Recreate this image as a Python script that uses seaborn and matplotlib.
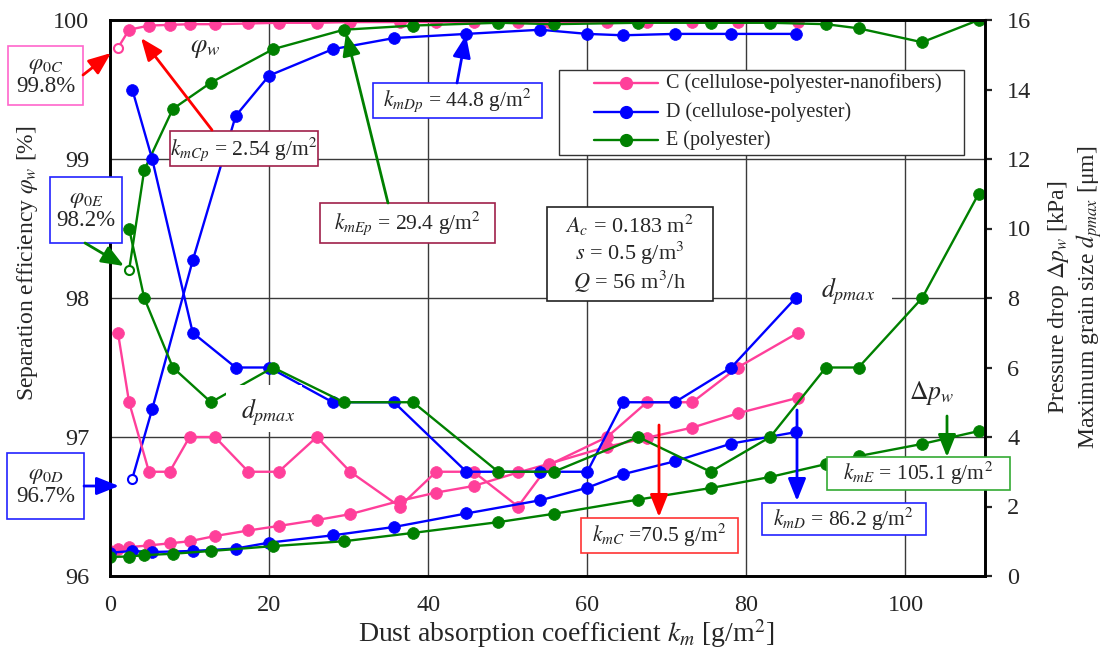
import numpy as np
import pandas as pd
import matplotlib
matplotlib.use("Agg")
import matplotlib.pyplot as plt
import seaborn as sns
from matplotlib.patches import Rectangle, FancyArrowPatch
from matplotlib.lines import Line2D

# ---------------- data ----------------
# C (cellulose-polyester-nanofibers)
km_C = [1.0, 2.4, 4.9, 7.5, 10.0, 13.2, 17.4, 21.2, 26.0, 30.2, 36.4, 41.0, 45.7, 51.3,
        55.2, 62.5, 67.5, 73.2, 78.9, 86.5]
phi_C = [99.80, 99.93, 99.96, 99.965, 99.97, 99.97, 99.975, 99.98, 99.98, 99.985, 99.985,
         99.985, 99.985, 99.985, 99.985, 99.985, 99.985, 99.985, 99.985, 99.985]
dp_C = [7, 5, 3, 3, 4, 4, 3, 3, 4, 3, 2, 3, 3, 2, 3.2, 4, 5, 5, 6, 7]
km_C_dp = [0.0] + km_C
dP_C = [0.72, 0.77, 0.83, 0.88, 0.94, 1.00, 1.15, 1.31, 1.44, 1.61, 1.78, 2.16, 2.40, 2.59,
        2.98, 3.23, 3.72, 3.98, 4.27, 4.68, 5.13]

# D (cellulose-polyester)
km_D = [2.8, 5.3, 10.4, 15.8, 20.0, 28.0, 35.7, 44.8, 54.1, 60.0, 64.5, 71.0, 78.1, 86.2]
phi_D = [96.70, 97.20, 98.27, 99.31, 99.60, 99.79, 99.87, 99.90, 99.93, 99.90, 99.89,
         99.90, 99.90, 99.90]
dp_D = [14, 12, 7, 6, 6, 5, 5, 3, 3, 3, 5, 5, 6, 8]
km_D_dp = [0.0] + km_D
dP_D = [0.67, 0.72, 0.69, 0.72, 0.79, 0.96, 1.17, 1.41, 1.80, 2.18, 2.54, 2.93, 3.30, 3.81, 4.14]

# E (polyester)
km_E = [2.4, 4.3, 7.9, 12.7, 20.5, 29.4, 38.1, 48.8, 55.8, 66.4, 75.5, 83.0, 90.0, 94.1,
        102.1, 109.2]
phi_E = [98.20, 98.92, 99.36, 99.55, 99.79, 99.93, 99.96, 99.98, 99.97, 99.98, 99.98,
         99.98, 99.97, 99.94, 99.84, 100.0]
dp_E = [10, 8, 6, 5, 6, 5, 5, 3, 3, 4, 3, 4, 6, 6, 8, 11]
km_E_dp = [0.0] + km_E
dP_E = [0.55, 0.56, 0.60, 0.64, 0.72, 0.86, 1.00, 1.24, 1.55, 1.79, 2.20, 2.53, 2.85, 3.22,
        3.45, 3.80, 4.17]

labels = ["C (cellulose-polyester-nanofibers)", "D (cellulose-polyester)", "E (polyester)"]
PINK, BLUE, GREEN = "#FF3F9A", "#0000FF", "#008000"

# ---------------- style ----------------
sns.set_style("white")
plt.rcParams["font.family"] = ["Liberation Serif", "DejaVu Serif"]
plt.rcParams["mathtext.fontset"] = "stix"

W, H = 1106, 650
fig = plt.figure(figsize=(W / 100, H / 100), dpi=100)
ax = fig.add_axes([110 / W, 1 - 576 / H, 875 / W, 556 / H])
ax2 = ax.twinx()


def F(x, y):
    return (x / W, 1 - y / H)


def series(axis, x, y, color, open_first=False):
    kw = dict(ax=axis, color=color, marker="o", markersize=8.5, markeredgecolor=color,
              markeredgewidth=0.5, linewidth=1.7, sort=False, estimator=None)
    if open_first:
        kw["markevery"] = list(range(1, len(x)))
    sns.lineplot(x=x, y=y, **kw)
    if open_first:
        axis.plot([x[0]], [y[0]], marker="o", ms=6.5, mfc="white", mec=color, mew=1.5,
                  ls="none", zorder=5)


for (kx, ph, kdp, dP, dp, c) in [
        (km_C, phi_C, km_C_dp, dP_C, dp_C, PINK),
        (km_D, phi_D, km_D_dp, dP_D, dp_D, BLUE),
        (km_E, phi_E, km_E_dp, dP_E, dp_E, GREEN)]:
    series(ax, kx, ph, c, open_first=True)
    series(ax2, kdp, dP, c)
    series(ax2, kx, dp, c)

ax.set_xlim(0, 110)
ax.set_ylim(96, 100)
ax2.set_ylim(0, 16)
ax.set_xticks([0, 20, 40, 60, 80, 100])
ax.set_yticks([96, 97, 98, 99, 100])
ax2.set_yticks(range(0, 17, 2))
ax.grid(True, color="#3a3a3a", lw=1.0)
ax2.grid(False)
ax.set_xlabel("")
ax.set_ylabel("")
ax2.set_ylabel("")
ax.tick_params(axis="x", length=0, labelsize=17.5, pad=14)
ax.tick_params(axis="y", length=0, labelsize=17.5, pad=15)
ax2.tick_params(axis="y", direction="out", length=5, width=1.6, labelsize=17.5, pad=11)
for a in (ax, ax2):
    for s in a.spines.values():
        s.set_linewidth(1.9)
        s.set_color("black")
        s.set_visible(True)

# ---------------- axis titles ----------------
fig.text(*F(28, 263), r"Separation efficiency $\varphi_w$ [%]", rotation=90,
         ha="center", va="center", fontsize=17)
fig.text(*F(1075, 297), "Pressure drop $\\Delta p_w$ [kPa]\nMaximum grain size $d_{pmax}$ [\u03bcm]",
         rotation=90, ha="center", va="center", fontsize=17, multialignment="center",
         linespacing=1.15)
fig.text(*F(566, 634), r"Dust absorption coefficient $k_m$ [g/m$^2$]", ha="center",
         va="center", fontsize=20)

# ---------------- legend (drawn manually) ----------------
fig.add_artist(Rectangle(F(559, 155), (964 - 559) / W, (155 - 70) / H,
                         transform=fig.transFigure, fc="white", ec="#333333", lw=1.0, zorder=8))
for yy, c, lab in zip([83, 112, 140], [PINK, BLUE, GREEN], labels):
    fig.add_artist(Line2D([594 / W, 658 / W], [1 - yy / H] * 2, transform=fig.transFigure,
                          color=c, lw=1.7, zorder=9))
    fig.add_artist(Line2D([626 / W], [1 - yy / H], transform=fig.transFigure, color=c,
                          marker="o", ms=8.5, ls="none", zorder=9))
    fig.text(666 / W, 1 - yy / H, lab, ha="left", va="center", fontsize=14.5, zorder=9)


# ---------------- annotations ----------------
def box(x0, y0, x1, y1, ec, lw=1.2):
    fig.add_artist(Rectangle(F(x0, y1), (x1 - x0) / W, (y1 - y0) / H,
                             transform=fig.transFigure, fc="white", ec=ec, lw=lw, zorder=10))


def label(x, y, s, size=15.5, **kw):
    fig.text(x / W, 1 - y / H, s, ha="center", va="center", fontsize=size, zorder=11, **kw)


def arrow(x0, y0, x1, y1, color):
    fig.add_artist(FancyArrowPatch(F(x0, y0), F(x1, y1), transform=fig.transFigure,
                                   arrowstyle="-|>,head_length=0.8,head_width=0.32",
                                   mutation_scale=17, color=color, lw=2, zorder=12,
                                   shrinkA=0, shrinkB=0))


# white knockouts behind the d_pmax labels
box(226, 385, 302, 432, "white", lw=0)
box(802, 277, 892, 314, "white", lw=0)
label(268, 412, r"$d_{pmax}$", size=18.5)
label(848, 291, r"$d_{pmax}$", size=18.5)
label(205, 49, r"$\varphi_w$", size=19)
label(932, 393, r"$\Delta p_w$", size=18.5)

box(8, 46, 83, 105, "#FF66CC")
label(45.5, 76, "$\\varphi_{0C}$\n99.8%", size=16.5, linespacing=1.05)
arrow(83, 75, 111, 53, "#FF0000")

box(170, 131, 318, 166, "#A0204A")
label(244, 149, r"$k_{mCp}$ = 2.54 g/m$^2$")
arrow(212, 130, 141, 38, "#FF0000")

box(50, 177, 122, 243, "#2222FF")
label(86, 210, "$\\varphi_{0E}$\n98.2%", size=16.5, linespacing=1.05)
arrow(85, 243, 124, 266, GREEN)

box(320, 203, 495, 243, "#A0204A")
label(407.5, 223, r"$k_{mEp}$ = 29.4 g/m$^2$")
arrow(388, 203, 346, 33, GREEN)

box(373, 83, 542, 118, "#2222FF")
label(457.5, 100.5, r"$k_{mDp}$ = 44.8 g/m$^2$")
arrow(457, 83, 466, 35, BLUE)

box(547, 207, 713, 301, "#222222")
label(630, 254, "$A_c$ = 0.183 m$^2$\n$s$ = 0.5 g/m$^3$\n$Q$ = 56 m$^3$/h", size=16,
      linespacing=1.1)

box(7, 453, 84, 519, "#2222FF")
label(45.5, 486, "$\\varphi_{0D}$\n96.7%", size=16.5, linespacing=1.05)
arrow(84, 486, 119, 486, BLUE)

box(581, 518, 738, 553, "#FF3333")
label(659.5, 535.5, r"$k_{mC}$ =70.5 g/m$^2$")
arrow(659, 425, 659, 517, "#FF0000")

box(762, 503, 926, 535, "#2222FF")
label(844, 519, r"$k_{mD}$ = 86.2 g/m$^2$")
arrow(797, 410, 797, 501, BLUE)

box(827, 457, 1010, 490, "#33AA33")
label(918.5, 473.5, r"$k_{mE}$ = 105.1 g/m$^2$")
arrow(947, 416, 947, 457, GREEN)

fig.savefig("out.png", dpi=100)
